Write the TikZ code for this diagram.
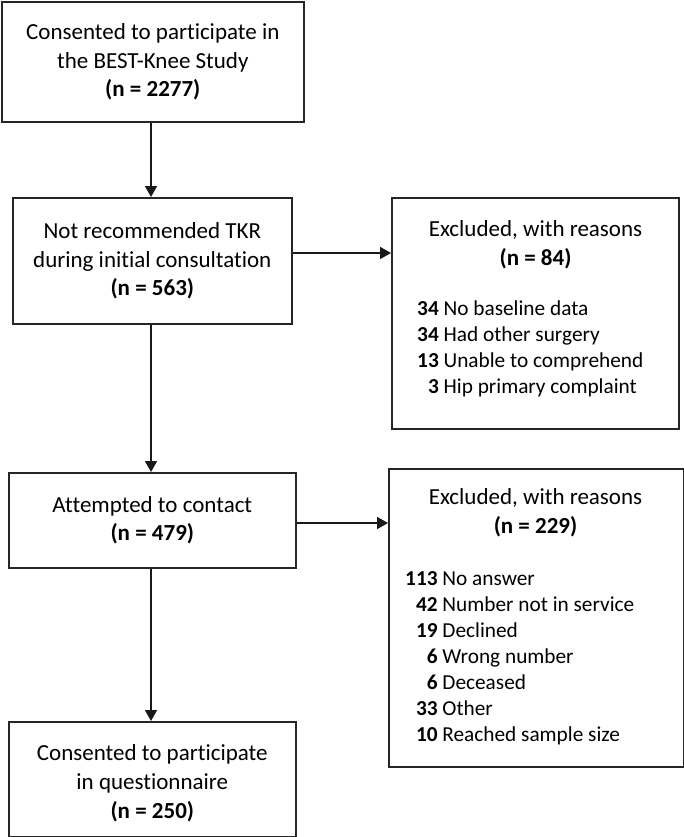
\documentclass[tikz,border=0pt]{standalone}
\usepackage{fontspec}
\setmainfont{Carlito}[Ligatures=NoCommon]
\usetikzlibrary{arrows.meta}
\begin{document}
\begin{tikzpicture}[x=1pt,y=-1pt,
  box/.style={draw=black!85, line width=1.6pt, inner sep=0pt, anchor=north west,
              align=center, font=\fontsize{23}{28.5}\selectfont},
  txt/.style={inner sep=0pt, align=center, font=\fontsize{23}{29}\selectfont},
  hdr/.style={txt, anchor=base},
  lst/.style={inner sep=0pt, anchor=base west, font=\fontsize{21.3}{26}\selectfont},
  arr/.style={line width=1.6pt, draw=black!90, -{Triangle[length=11pt,width=12pt]}}]
\useasboundingbox (0,0) rectangle (684,837);

\node[box, minimum width=302pt, minimum height=120pt] (b1) at (1,1)
  {Consented to participate in\\ the BEST-Knee Study\\ \textbf{(n = 2277)}};
\node[box, minimum width=279pt, minimum height=126pt] (b2) at (12,197)
  {Not recommended TKR\\ during initial consultation\\ \textbf{(n = 563)}};
\node[box, minimum width=287pt, minimum height=231pt] (b3) at (391,197) {};
\node[box, minimum width=287pt, minimum height=95pt] (b4) at (8,472)
  {Attempted to contact\\ \textbf{(n = 479)}};
\node[box, minimum width=295pt, minimum height=298pt] (b5) at (388,468) {};
\node[box, minimum width=287pt, minimum height=115pt] (b6) at (8,721) {};
\node[txt] (t6) at ([yshift=-4pt]b6.center)
  {Consented to participate\\ in questionnaire\\ \textbf{(n = 250)}};

\node[hdr] (h3) at (535.5,265) {Excluded, with reasons\\ \textbf{(n = 84)}};
\node[lst] (l3) at (417,315) {\begin{tabular}[t]{@{}r@{\ }l@{}}
  \textbf{34} & No baseline data\\
  \textbf{34} & Had other surgery\\
  \textbf{13} & Unable to comprehend\\
  \textbf{3} & Hip primary complaint
\end{tabular}};

\node[hdr] (h5) at (535.5,533) {Excluded, with reasons\\ \textbf{(n = 229)}};
\node[lst] (l5) at (405,585) {\begin{tabular}[t]{@{}r@{\ }l@{}}
  \textbf{113} & No answer\\
  \textbf{42} & Number not in service\\
  \textbf{19} & Declined\\
  \textbf{6} & Wrong number\\
  \textbf{6} & Deceased\\
  \textbf{33} & Other\\
  \textbf{10} & Reached sample size
\end{tabular}};

\coordinate (x1) at (151,0);
\coordinate (y1) at (0,253);
\coordinate (y2) at (0,523);
\draw[arr] (b1.south -| x1) -- (b2.north -| x1);
\draw[arr] (b2.south -| x1) -- (b4.north -| x1);
\draw[arr] (b4.south -| x1) -- (b6.north -| x1);
\draw[arr] (b2.east |- y1) -- (b3.west |- y1);
\draw[arr] (b4.east |- y2) -- (b5.west |- y2);
\end{tikzpicture}
\end{document}
